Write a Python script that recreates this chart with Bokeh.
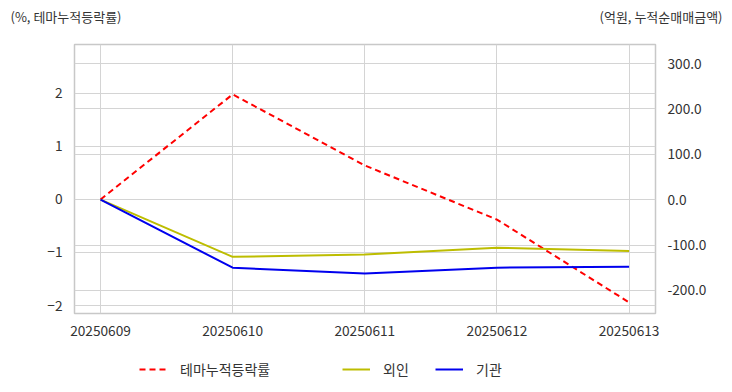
from bokeh.plotting import figure
from bokeh.layouts import column
from bokeh.models import (Range1d, LinearAxis, FixedTicker, NumeralTickFormatter, Grid,
                          Label, Legend, LegendItem)
from bokeh.embed import file_html
from bokeh.resources import INLINE

dates = ["20250609", "20250610", "20250611", "20250612", "20250613"]
theme_rate = [0.0, 1.98, 0.64, -0.38, -1.94]
foreign_amt = [0.0, -126.0, -121.0, -106.0, -113.0]
inst_amt = [0.0, -150.0, -163.0, -150.0, -148.0]
left_ticks = [-2, -1, 0, 1, 2]
right_ticks = [-200, -100, 0, 100, 200, 300]
series_names = ["테마누적등락률", "외인", "기관"]
left_title = "(%, 테마누적등락률)"
right_title = "(억원, 누적순매매금액)"

FONT = "Noto Sans CJK KR"
TXT = "#333333"
GRID = "#d4d4d4"
RED, YEL, BLU = "#ff0000", "#bdbd00", "#0000ee"
DASH = "6 4"
W = 716
WS = 726


def strip(h):
    f = figure(width=WS, height=h, output_backend="svg", toolbar_location=None,
               x_range=Range1d(0, WS), y_range=Range1d(0, h),
               x_axis_type=None, y_axis_type=None,
               min_border=0, min_border_left=0, min_border_right=0,
               min_border_top=0, min_border_bottom=0, frame_align=False)
    f.outline_line_color = None
    f.grid.visible = False
    f.background_fill_color = "white"
    f.border_fill_color = "white"
    return f


# ---- title strip ----
top = strip(36)
top.add_layout(Label(x=10, y=20, x_units="screen", y_units="screen",
                     text=left_title, text_font=FONT, text_font_size="13px",
                     text_color=TXT, text_baseline="middle", text_align="left"))
top.add_layout(Label(x=722, y=20, x_units="screen", y_units="screen",
                     text=right_title, text_font=FONT, text_font_size="13px",
                     text_color=TXT, text_baseline="middle", text_align="right"))

# ---- main chart ----
xs = list(range(len(dates)))
p = figure(width=W, height=304, output_backend="svg", toolbar_location=None,
           x_range=Range1d(-0.197, 4.2), y_range=Range1d(-2.15, 2.92),
           min_border_left=74, min_border_right=61, min_border_top=8, min_border_bottom=27,
           frame_align=False)
p.extra_y_ranges = {"amt": Range1d(-251, 342)}

p.outline_line_color = "#c8c8c8"
p.outline_line_width = 1.5
p.background_fill_color = "white"
p.border_fill_color = "white"

p.xaxis.ticker = FixedTicker(ticks=xs)
p.xaxis.major_label_overrides = {i: d for i, d in enumerate(dates)}
p.yaxis.ticker = FixedTicker(ticks=left_ticks)

ra = LinearAxis(y_range_name="amt", ticker=FixedTicker(ticks=right_ticks),
                formatter=NumeralTickFormatter(format="0.0"))
p.add_layout(ra, "right")

for ax in [p.xaxis[0], p.yaxis[0], ra]:
    ax.axis_line_color = None
    ax.major_tick_line_color = None
    ax.minor_tick_line_color = None
    ax.major_label_text_font = FONT
    ax.major_label_text_font_size = "13.7px"
    ax.major_label_text_color = TXT
    ax.major_label_standoff = 6

p.xgrid.grid_line_color = GRID
p.ygrid.grid_line_color = GRID
p.add_layout(Grid(dimension=1, ticker=ra.ticker, y_range_name="amt", grid_line_color=GRID))

p.line(xs, theme_rate, line_color=RED, line_width=2, line_dash=DASH)
p.line(xs, foreign_amt, line_color=YEL, line_width=2, y_range_name="amt")
p.line(xs, inst_amt, line_color=BLU, line_width=2, y_range_name="amt")

# ---- legend strip ----
bot = strip(50)
styles = [dict(line_color=RED, line_width=2, line_dash=DASH),
          dict(line_color=YEL, line_width=2),
          dict(line_color=BLU, line_width=2)]
series = [theme_rate, foreign_amt, inst_amt]
for name, st, ys, x0 in zip(series_names, styles, series, [139, 342, 435]):
    r = bot.line(xs, ys, visible=False, **st)
    lg = Legend(items=[LegendItem(label=name, renderers=[r])], location=(x0, 11),
                padding=0, margin=0, border_line_color=None, background_fill_alpha=0,
                inactive_fill_alpha=0,
                label_text_font=FONT, label_text_font_size="14px", label_text_color=TXT,
                glyph_width=28, glyph_height=20, label_height=20, label_standoff=13)
    bot.add_layout(lg)

layout = column(top, p, bot, spacing=0)
open("out.html", "w").write(file_html(layout, INLINE))
